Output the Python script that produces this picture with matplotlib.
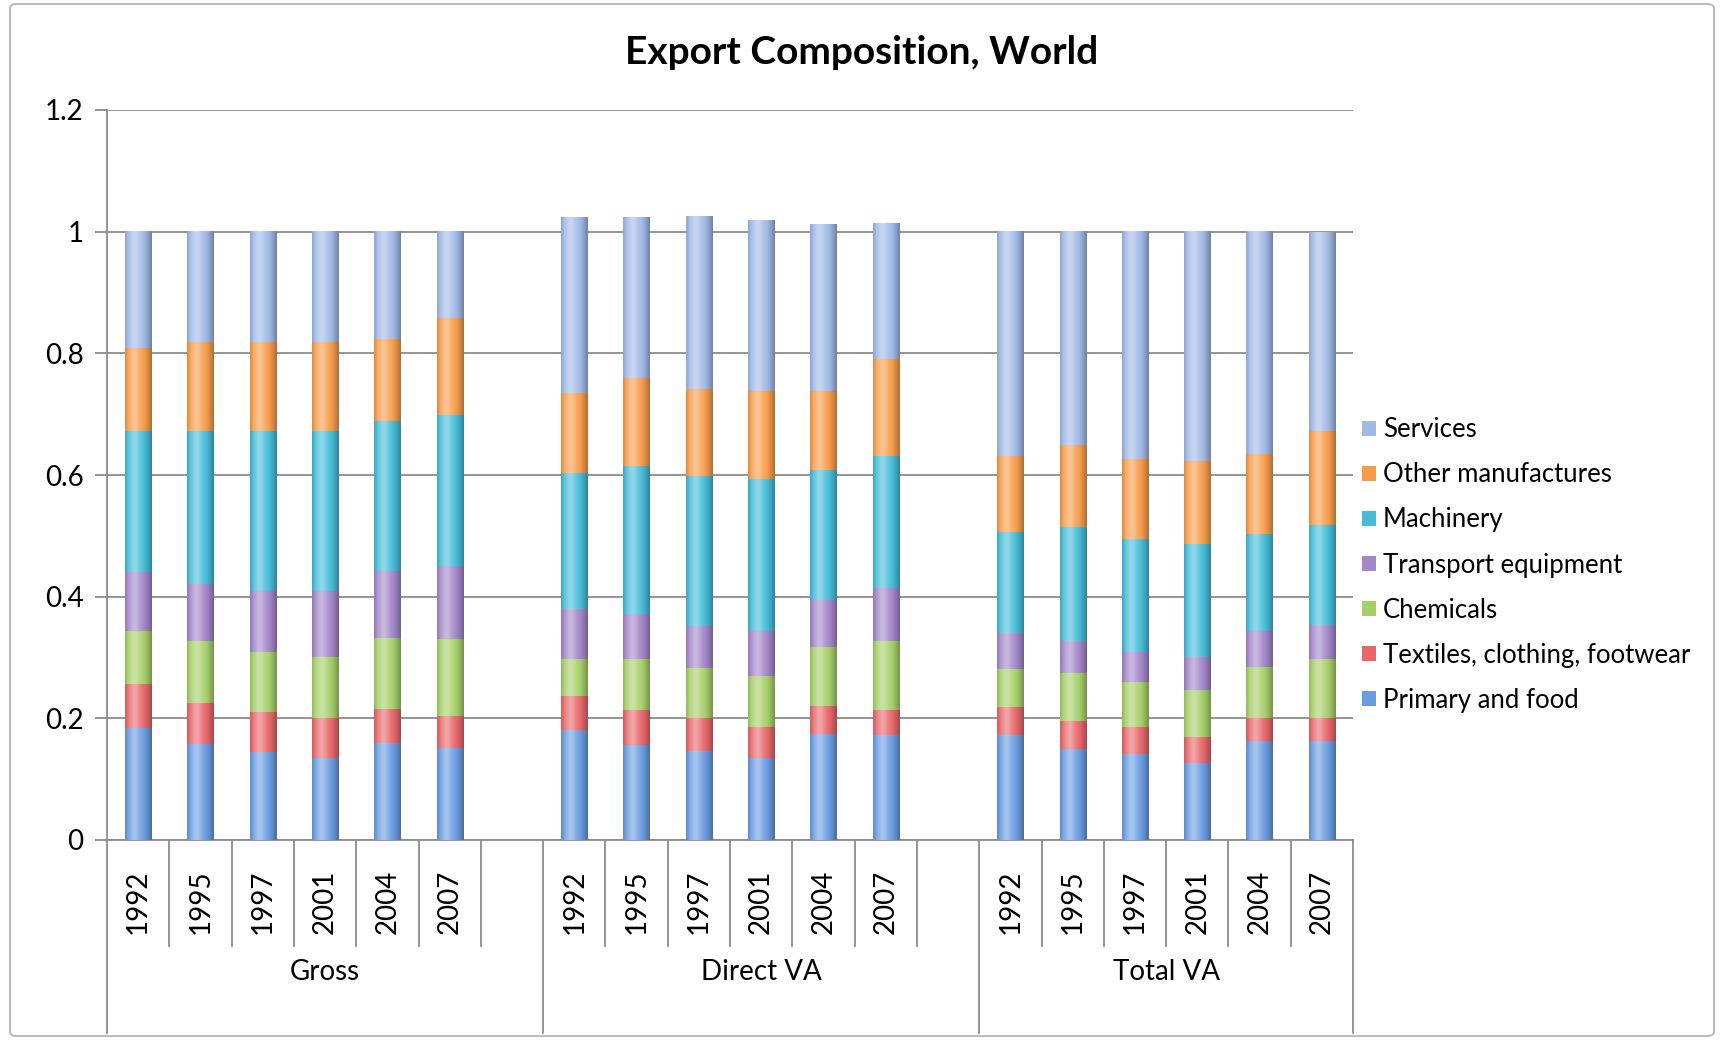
import numpy as np
import matplotlib
matplotlib.use("Agg")
import matplotlib.pyplot as plt
from matplotlib.patches import FancyBboxPatch
from matplotlib.colors import to_rgb
import matplotlib.transforms as mtransforms

plt.rcParams['font.family'] = ['Lato', 'DejaVu Sans']

# ---------------- data ----------------
groups = ["Gross", "Direct VA", "Total VA"]
years = ["1992", "1995", "1997", "2001", "2004", "2007"]

primary_food = [0.184, 0.157, 0.145, 0.134, 0.160, 0.151,
                0.181, 0.156, 0.147, 0.135, 0.174, 0.173,
                0.173, 0.150, 0.142, 0.127, 0.162, 0.162]
textiles = [0.073, 0.069, 0.065, 0.066, 0.055, 0.053,
            0.055, 0.057, 0.053, 0.050, 0.046, 0.041,
            0.046, 0.046, 0.043, 0.043, 0.039, 0.039]
chemicals = [0.086, 0.101, 0.099, 0.100, 0.117, 0.126,
             0.061, 0.084, 0.082, 0.085, 0.098, 0.113,
             0.062, 0.078, 0.074, 0.076, 0.084, 0.097]
transport = [0.097, 0.093, 0.100, 0.109, 0.111, 0.121,
             0.082, 0.074, 0.069, 0.073, 0.077, 0.087,
             0.059, 0.053, 0.050, 0.055, 0.059, 0.056]
machinery = [0.233, 0.253, 0.264, 0.264, 0.245, 0.248,
             0.224, 0.244, 0.248, 0.250, 0.213, 0.217,
             0.167, 0.187, 0.185, 0.186, 0.159, 0.163]
other_manuf = [0.135, 0.146, 0.146, 0.146, 0.136, 0.159,
               0.132, 0.145, 0.142, 0.145, 0.130, 0.160,
               0.124, 0.135, 0.132, 0.136, 0.132, 0.156]
services = [0.192, 0.181, 0.181, 0.181, 0.176, 0.142,
            0.289, 0.264, 0.283, 0.281, 0.273, 0.223,
            0.369, 0.351, 0.374, 0.377, 0.365, 0.327]

series_names = ["Primary and food", "Textiles, clothing, footwear", "Chemicals",
                "Transport equipment", "Machinery", "Other manufactures", "Services"]
series_values = [primary_food, textiles, chemicals, transport, machinery,
                 other_manuf, services]
series_colors = ["#6A9CE0", "#E8676A", "#A6CF68", "#A387C9", "#45BCD8",
                 "#F79C4A", "#A0B9E6"]

# ---------------- layout ----------------
W, H = 1721, 1042
fig = plt.figure(figsize=(W / 100, H / 100), dpi=100)
fig.patch.set_facecolor("white")

frame = FancyBboxPatch((10 / W, 6 / H), 1704 / W, 1032 / H,
                       boxstyle="round,pad=0,rounding_size=0.004",
                       transform=fig.transFigure, facecolor="none",
                       edgecolor="#BDBDBD", linewidth=1.5, zorder=-1)
fig.patches.append(frame)

ax = fig.add_axes([107 / W, 1 - 840 / H, (1353 - 107) / W, (840 - 110) / H])
ax.set_facecolor("none")

slots_per_group = len(years) + 1
n_slots = slots_per_group * len(groups) - 1
positions = []
for g in range(len(groups)):
    for k in range(len(years)):
        positions.append(g * slots_per_group + k)
positions = np.array(positions, dtype=float)

bar_w = 0.42
bottom = np.zeros(len(positions))
containers = []
for name, vals, col in zip(series_names, series_values, series_colors):
    vals = np.array(vals)
    bc = ax.bar(positions, vals, bar_w, bottom=bottom, color=col,
                edgecolor="none", label=name, zorder=3)
    containers.append((bc, col))
    bottom = bottom + vals


def shade(col, n=64):
    base = np.array(to_rgb(col))
    t = np.linspace(0, 1, n)
    light = 0.40 * np.exp(-((t - 0.36) / 0.22) ** 2)
    dark = 0.30 * np.clip((t - 0.68) / 0.32, 0, 1) ** 1.4 + 0.12 * np.clip((0.12 - t) / 0.12, 0, 1)
    rgb = base[None, :] * (1 - light[:, None]) + light[:, None] * 1.0
    rgb = rgb * (1 - dark[:, None])
    return rgb[None, :, :]


for bc, col in containers:
    img = shade(col)
    for p in bc.patches:
        x0, y0 = p.get_x(), p.get_y()
        w, h = p.get_width(), p.get_height()
        ax.imshow(img, extent=[x0, x0 + w, y0, y0 + h], aspect="auto",
                  interpolation="bilinear", zorder=3.5)

ax.set_xlim(-0.5, n_slots - 0.5)
ax.set_ylim(0, 1.2)
ax.set_yticks(np.arange(0, 1.21, 0.2))
ax.set_yticklabels([f"{v:g}" for v in np.arange(0, 1.21, 0.2)])
ax.yaxis.grid(True, color="#8C8C8C", linewidth=1.3, zorder=0)
ax.set_axisbelow(True)
for s in ["top", "right"]:
    ax.spines[s].set_visible(False)
ax.spines["left"].set_color("#8C8C8C")
ax.spines["bottom"].set_color("#8C8C8C")
ax.spines["left"].set_linewidth(1.3)
ax.spines["bottom"].set_linewidth(1.3)
ax.tick_params(axis="y", length=9, width=1.3, color="#8C8C8C",
               labelsize=20, pad=8, labelcolor="black")
ax.set_xticks([])

# category axis: year labels, dividers, group labels
trans = mtransforms.blended_transform_factory(ax.transData, ax.transAxes)
ax_h = 840 - 110
short_end = -(946 - 840) / ax_h
long_end = -(1033 - 840) / ax_h
year_y = -(902 - 840) / ax_h
group_y = -(972 - 840) / ax_h

for pos, i in zip(positions, range(len(positions))):
    ax.text(pos, year_y, years[i % len(years)], transform=trans, rotation=90,
            ha="center", va="center", fontsize=20)

group_edges = [g * slots_per_group - 0.5 for g in range(len(groups))] + [n_slots - 0.5]
for b in range(n_slots + 1):
    xb = b - 0.5
    is_long = any(abs(xb - e) < 1e-9 for e in group_edges)
    ax.plot([xb, xb], [0, long_end if is_long else short_end], transform=trans,
            color="#8C8C8C", linewidth=1.3, clip_on=False, zorder=2)

for g, name in enumerate(groups):
    lo = group_edges[g]
    hi = group_edges[g + 1]
    ax.text((lo + hi) / 2, group_y, name, transform=trans, ha="center",
            va="center", fontsize=20)

# title
fig.text(862 / W, 1 - 52 / H, "Export Composition, World", ha="center",
         va="center", fontsize=28, fontweight="bold")

# legend (reverse order)
handles = [c[0] for c in containers][::-1]
labels = series_names[::-1]
leg = fig.legend(handles, labels, loc="center left",
                 bbox_to_anchor=(1352 / W, 1 - 565 / H), frameon=False,
                 fontsize=18.5, handlelength=0.55, handleheight=0.55,
                 handletextpad=0.25, labelspacing=0.78, borderaxespad=0)

fig.savefig("out.png", dpi=100)
